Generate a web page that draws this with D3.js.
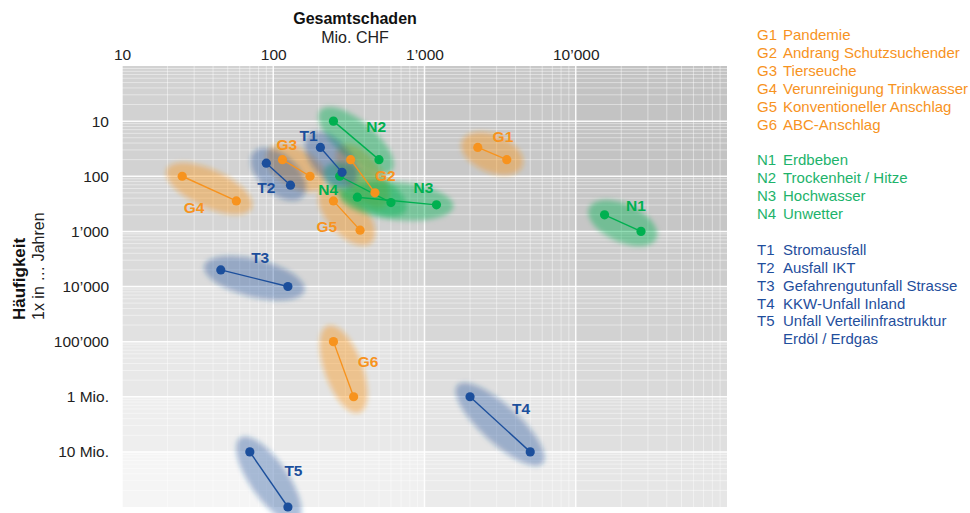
<!DOCTYPE html>
<html>
<head>
<meta charset="utf-8">
<script src="https://cdn.jsdelivr.net/npm/d3@7"></script>
<style>
  html, body { margin: 0; padding: 0; background: #ffffff; }
  svg { display: block; font-family: "Liberation Sans", Arial, sans-serif; }
</style>
</head>
<body>
<svg id="chart" width="970" height="513"></svg>
<script>
// ---------- DATA ----------
const codes  = ["G1","G2","G3","G4","G5","G6","N1","N2","N3","N4","T1","T2","T3","T4","T5"];
const groups = ["G","G","G","G","G","G","N","N","N","N","T","T","T","T","T"];
const names  = ["Pandemie","Andrang Schutzsuchender","Tierseuche","Verunreinigung Trinkwasser",
                "Konventioneller Anschlag","ABC-Anschlag",
                "Erdbeben","Trockenheit / Hitze","Hochwasser","Unwetter",
                "Stromausfall","Ausfall IKT","Gefahrengutunfall Strasse","KKW-Unfall Inland",
                "Unfall Verteilinfrastruktur\nErdöl / Erdgas"];
// Gesamtschaden (Mio. CHF) and Häufigkeit (1x in ... Jahren) for the two scenario points
const damageA = [2250, 325, 115, 25, 250, 250, 15500, 250, 360, 275, 205, 90, 45, 2000, 70];
const freqA   = [30, 50, 50, 100, 280, 100000, 500, 10, 240, 100, 30, 58, 5000, 1e6, 1e7];
const damageB = [3500, 470, 175, 57, 375, 340, 27000, 500, 1200, 600, 285, 130, 125, 5000, 125];
const freqB   = [50, 200, 100, 280, 950, 1e6, 1000, 50, 330, 300, 85, 145, 10000, 1e7, 1e8];
// label anchor positions (data units)
const labelX  = [3300, 550, 123, 30, 226, 424, 25000, 480, 985, 231, 171, 90, 82, 4350, 136];
const labelY  = [18.6, 95, 26.4, 367, 825, 226000, 337, 12.3, 159, 173, 18.4, 159, 3013, 1.66e6, 2.15e7];

const xTicks = [10, 100, 1000, 10000];
const xTickLabels = ["10", "100", "1\u2019000", "10\u2019000"];
const yTicks = [10, 100, 1000, 10000, 100000, 1e6, 1e7];
const yTickLabels = ["10", "100", "1\u2019000", "10\u2019000", "100\u2019000", "1 Mio.", "10 Mio."];

// ---------- STYLE ----------
const colors = { G: "#f7931e", N: "#00b050", T: "#1c4f9c" };
const legendColors = { G: "#f7931e", N: "#1db36b", T: "#1f4e9c" };
const ellipseOpacity = { G: 0.42, N: 0.42, T: 0.36 };

const svg = d3.select("#chart");
const x = d3.scaleLog().domain([10, 1e5]).range([122, 727]);
const y = d3.scaleLog().domain([1, 1e8]).range([66, 507]);

// filter for soft ellipses
const defs = svg.append("defs");
defs.append("filter").attr("id", "blur")
  .attr("x", "-50%").attr("y", "-50%").attr("width", "200%").attr("height", "200%")
  .append("feGaussianBlur").attr("stdDeviation", 2.6);

// ---------- BACKGROUND CELLS ----------
const rowShade = [210, 210, 213, 219, 225, 232, 238, 245];
const bg = svg.append("g");
for (let i = 0; i < 4; i++) {
  for (let j = 0; j < 8; j++) {
    const L = Math.round(rowShade[j] - 5 * i);
    bg.append("rect")
      .attr("x", x(Math.pow(10, i + 1)))
      .attr("y", y(Math.pow(10, j)))
      .attr("width", x(Math.pow(10, i + 2)) - x(Math.pow(10, i + 1)))
      .attr("height", y(Math.pow(10, j + 1)) - y(Math.pow(10, j)))
      .attr("fill", d3.rgb(L, L, L));
  }
}

// ---------- GRID ----------
const grid = svg.append("g");
const [x0, x1] = x.range();
const [y0, y1] = y.range();
for (let e = 1; e < 5; e++) {
  for (let k = 2; k <= 9; k++) {
    const v = k * Math.pow(10, e);
    grid.append("line").attr("x1", x(v)).attr("x2", x(v)).attr("y1", y0).attr("y2", y1)
      .attr("stroke", "#fff").attr("stroke-opacity", 0.45).attr("stroke-width", 1);
  }
}
for (let e = 1; e <= 8; e++) {
  for (let k = 2; k <= 9; k++) {
    const v = Math.pow(10, e) / k;
    grid.append("line").attr("x1", x0).attr("x2", x1).attr("y1", y(v)).attr("y2", y(v))
      .attr("stroke", "#fff").attr("stroke-opacity", 0.45).attr("stroke-width", 1);
  }
}
[10, 100, 1000, 10000].forEach(v => {
  grid.append("line").attr("x1", x(v)).attr("x2", x(v)).attr("y1", y0).attr("y2", y1)
    .attr("stroke", "#fff").attr("stroke-opacity", 0.9).attr("stroke-width", 1.5);
});
[10, 100, 1000, 1e4, 1e5, 1e6, 1e7].forEach(v => {
  grid.append("line").attr("x1", x0).attr("x2", x1).attr("y1", y(v)).attr("y2", y(v))
    .attr("stroke", "#fff").attr("stroke-opacity", 0.9).attr("stroke-width", 1.5);
});

// ---------- AXES ----------
const xAxis = svg.append("g").attr("transform", `translate(0,${y0 - 4})`)
  .call(d3.axisTop(x).tickValues(xTicks).tickSize(0).tickPadding(2)
        .tickFormat((d, i) => xTickLabels[i]));
xAxis.select(".domain").remove();
xAxis.selectAll("text").attr("font-size", 15.5).attr("fill", "#222")
  .attr("font-family", "Liberation Sans, Arial, sans-serif");

const yAxis = svg.append("g").attr("transform", `translate(109,0)`)
  .call(d3.axisLeft(y).tickValues(yTicks).tickSize(0).tickPadding(0)
        .tickFormat((d, i) => yTickLabels[i]));
yAxis.select(".domain").remove();
yAxis.selectAll("text").attr("font-size", 15.5).attr("fill", "#222")
  .attr("font-family", "Liberation Sans, Arial, sans-serif");

svg.append("text").attr("x", 355).attr("y", 24).attr("text-anchor", "middle")
  .attr("font-size", 16).attr("font-weight", "bold").attr("fill", "#111").text("Gesamtschaden");
svg.append("text").attr("x", 355).attr("y", 43).attr("text-anchor", "middle")
  .attr("font-size", 16).attr("fill", "#222").text("Mio. CHF");
svg.append("text").attr("transform", "translate(25,320) rotate(-90)").attr("text-anchor", "start")
  .attr("font-size", 17).attr("font-weight", "bold").attr("fill", "#111").text("Häufigkeit");
svg.append("text").attr("transform", "translate(44,320) rotate(-90)").attr("text-anchor", "start")
  .attr("font-size", 16).attr("fill", "#222").text("1x in … Jahren");

// ---------- SCENARIOS ----------
const items = codes.map((c, i) => {
  const p1 = [x(damageA[i]), y(freqA[i])];
  const p2 = [x(damageB[i]), y(freqB[i])];
  const dx = p2[0] - p1[0], dy = p2[1] - p1[1];
  return {
    code: c, g: groups[i], p1, p2,
    cx: (p1[0] + p2[0]) / 2, cy: (p1[1] + p2[1]) / 2,
    len: Math.hypot(dx, dy), ang: Math.atan2(dy, dx) * 180 / Math.PI,
    lx: x(labelX[i]), ly: y(labelY[i])
  };
});

const layer = svg.append("g");
layer.selectAll("ellipse").data(items).join("ellipse")
  .attr("transform", d => `translate(${d.cx},${d.cy}) rotate(${d.ang})`)
  .attr("rx", d => d.len / 2 + 17).attr("ry", 19)
  .attr("fill", d => colors[d.g]).attr("fill-opacity", d => ellipseOpacity[d.g])
  .attr("filter", "url(#blur)");

layer.selectAll("line.seg").data(items).join("line").attr("class", "seg")
  .attr("x1", d => d.p1[0]).attr("y1", d => d.p1[1])
  .attr("x2", d => d.p2[0]).attr("y2", d => d.p2[1])
  .attr("stroke", d => colors[d.g]).attr("stroke-width", 1.4);

const pts = items.flatMap(d => [{ p: d.p1, g: d.g }, { p: d.p2, g: d.g }]);
layer.selectAll("circle").data(pts).join("circle")
  .attr("cx", d => d.p[0]).attr("cy", d => d.p[1]).attr("r", 4.6)
  .attr("fill", d => colors[d.g]);

layer.selectAll("text.lbl").data(items).join("text").attr("class", "lbl")
  .attr("x", d => d.lx).attr("y", d => d.ly).attr("dy", "0.36em")
  .attr("text-anchor", "middle").attr("font-size", 15.5).attr("font-weight", "bold")
  .attr("fill", d => colors[d.g]).text(d => d.code);

// ---------- LEGEND ----------
const legend = svg.append("g");
let row = 0, prevG = null;
codes.forEach((c, i) => {
  if (prevG !== null && groups[i] !== prevG) row++;
  prevG = groups[i];
  const yy = 40 + row * 17.9;
  legend.append("text").attr("x", 757).attr("y", yy).attr("font-size", 15)
    .attr("fill", legendColors[groups[i]]).text(c);
  const lines = names[i].split("\n");
  lines.forEach((ln, k) => {
    legend.append("text").attr("x", 783).attr("y", yy + k * 17.9).attr("font-size", 15)
      .attr("fill", legendColors[groups[i]]).text(ln);
  });
  row += lines.length;
});
</script>
</body>
</html>
